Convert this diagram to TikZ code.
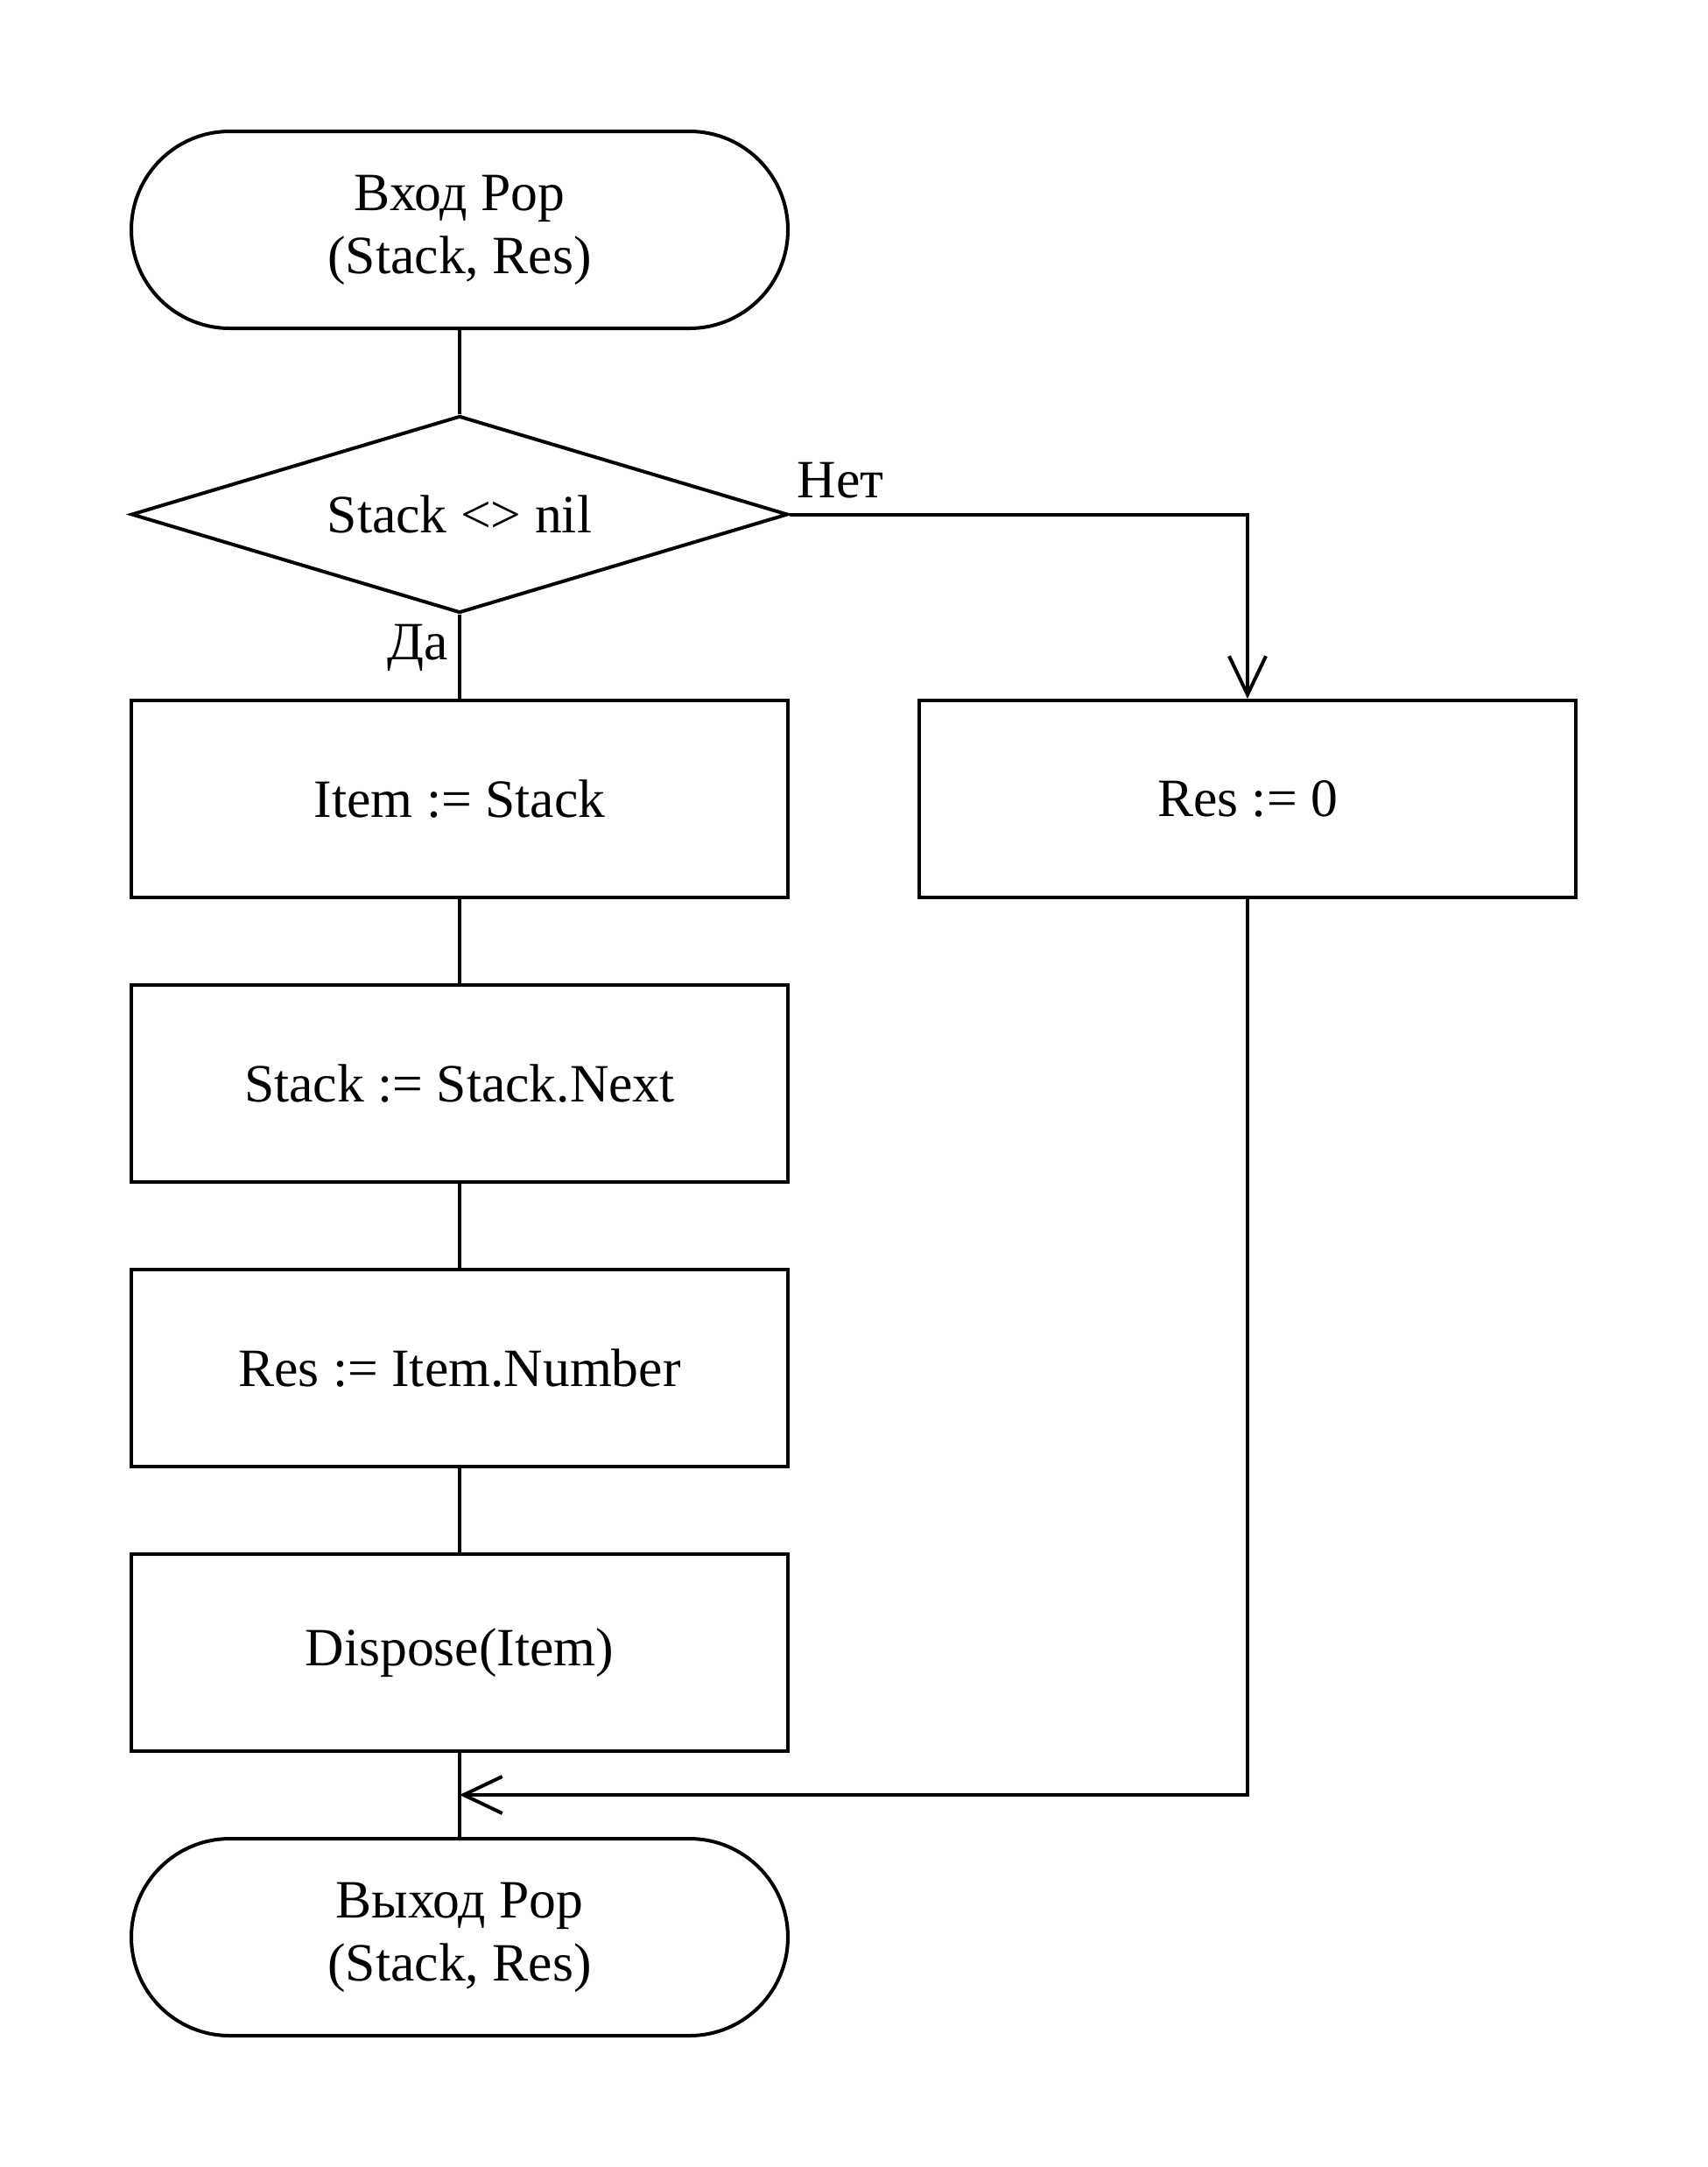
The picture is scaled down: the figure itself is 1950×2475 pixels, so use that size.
\documentclass[tikz,border=0pt]{standalone}
\usepackage{fontspec}
\setmainfont{Liberation Serif}
\usetikzlibrary{shapes.geometric,arrows.meta}
\begin{document}
\begin{tikzpicture}[x=0.25pt,y=-0.25pt,
  every node/.style={font=\fontsize{15.4pt}{18pt}\selectfont},
  term/.style={draw,line width=1pt,rectangle,rounded corners=28.125pt,minimum width=187.5pt,minimum height=56.25pt,inner sep=0pt,align=center},
  proc/.style={draw,line width=1pt,rectangle,minimum width=187.5pt,minimum height=56.25pt,inner sep=0pt,align=center},
  decis/.style={draw,line width=1pt,diamond,aspect=3.3333,minimum width=187.5pt,minimum height=56.25pt,inner sep=0pt},
  conn/.style={line width=1pt},
  arr/.style={line width=1pt,-{Straight Barb[length=11pt,width=10.5pt]}},
  lbl/.style={inner sep=0pt}]
\useasboundingbox (0,0) rectangle (1950,2475);
\node[term] (start) at (525,262.5) {Вход Pop\\(Stack, Res)};
\node[decis] (dec) at (525,587.5) {Stack <> nil};
\node[proc] (b1) at (525,912.5) {Item := Stack};
\node[proc] (b2) at (525,1237.5) {Stack := Stack.Next};
\node[proc] (b3) at (525,1562.5) {Res := Item.Number};
\node[proc] (b4) at (525,1887.5) {Dispose(Item)};
\node[term] (end) at (525,2212.5) {Выход Pop\\(Stack, Res)};
\node[proc] (r1) at (1425,912.5) {Res := 0};
\coordinate (merge) at (525,2050);
\draw[conn] (start) -- (dec);
\draw[conn] (dec) -- (b1);
\draw[conn] (b1) -- (b2);
\draw[conn] (b2) -- (b3);
\draw[conn] (b3) -- (b4);
\draw[conn] (b4) -- (end);
\draw[arr] (dec.east) -| (r1.north);
\draw[arr] (r1.south) |- (merge);
\node[lbl,anchor=south west] (no) at (910,570) {Нет};
\node[lbl,anchor=north east] (yes) at (513,712) {Да};
\end{tikzpicture}
\end{document}
